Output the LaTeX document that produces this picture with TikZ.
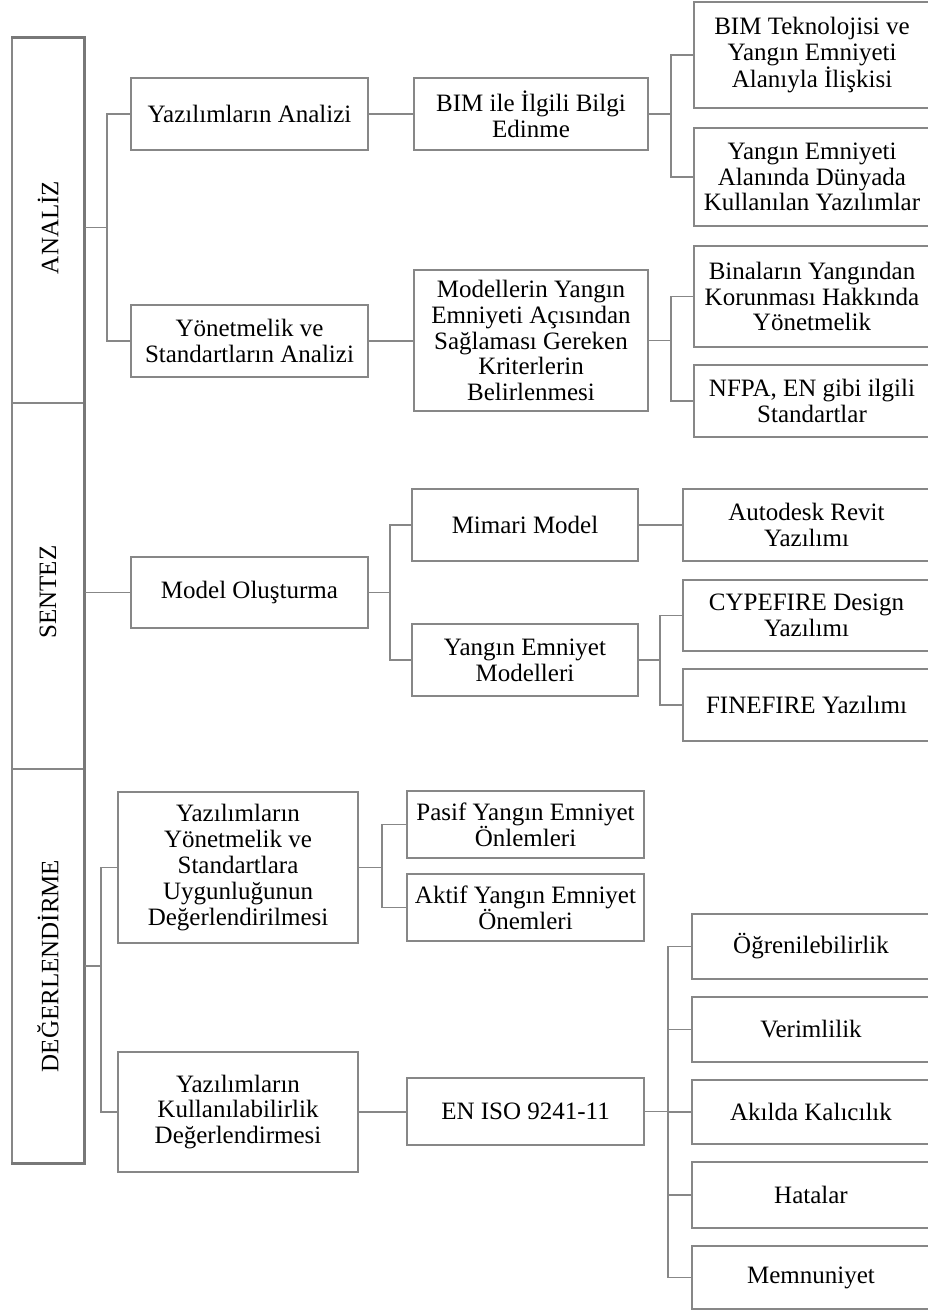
\documentclass[tikz,border=0pt]{standalone}
\usepackage{fontspec}
\setmainfont{Liberation Serif}
\usetikzlibrary{calc}
\definecolor{lgray}{RGB}{135,135,135}
\definecolor{sgray}{RGB}{120,120,120}
\tikzset{
  bx/.style={draw=lgray, line width=1.6pt, fill=white, align=center, inner sep=0pt,
    text=black, font=\fontsize{25}{25.8}\selectfont},
  colbox/.style={bx, minimum width=72pt},
  ln/.style={draw=lgray, line width=1.8pt},
}
\begin{document}
\begin{tikzpicture}[x=1pt,y=-1pt]
\useasboundingbox (0,0) rectangle (928,1310);
\fill[white] (0,0) rectangle (928,1310);
\clip (0,0) rectangle (928,1310);

% left column
\node[colbox, minimum height=365pt] (analiz) at (48,220.5) {\rotatebox{90}{ANALİZ\hspace*{14pt}}};
\node[colbox, minimum height=366pt] (sentez) at (48,586) {\rotatebox{90}{SENTEZ\hspace*{12pt}}};
\node[colbox, minimum height=394pt] (deg) at (48,966) {\rotatebox{90}{DEĞERLENDİRME}};
\draw[sgray, line width=3pt] (analiz.north west) -- (analiz.north east) -- (deg.south east) -- (deg.south west);

% level 2
\node[bx, minimum width=237pt, minimum height=72pt] (yazan) at (249.5,114) {Yazılımların Analizi};
\node[bx, minimum width=237pt, minimum height=72pt] (yonan) at (249.5,341) {Yönetmelik ve\\Standartların Analizi};
\node[bx, minimum width=237pt, minimum height=71pt] (model) at (249.5,592.5) {Model Oluşturma};
\node[bx, minimum width=240pt, minimum height=151pt] (yazyon) at (238,867.5) {Yazılımların\\Yönetmelik ve\\Standartlara\\Uygunluğunun\\Değerlendirilmesi};
\node[bx, minimum width=240pt, minimum height=120pt] (yazkul) at (238,1112) {Yazılımların\\Kullanılabilirlik\\Değerlendirmesi};

% level 3
\node[bx, minimum width=234pt, minimum height=72pt] (bim) at (531,114) {BIM ile İlgili Bilgi\\Edinme};
\node[bx, minimum width=234pt, minimum height=141pt] (modkrit) at (531,340.5) {Modellerin Yangın\\Emniyeti Açısından\\Sağlaması Gereken\\Kriterlerin\\Belirlenmesi};
\node[bx, minimum width=226pt, minimum height=72pt] (mimari) at (525,525) {Mimari Model};
\node[bx, minimum width=226pt, minimum height=72pt] (yem) at (525,660) {Yangın Emniyet\\Modelleri};
\node[bx, minimum width=237pt, minimum height=67pt] (pasif) at (525.5,824.5) {Pasif Yangın Emniyet\\Önlemleri};
\node[bx, minimum width=237pt, minimum height=67pt] (aktif) at (525.5,907.5) {Aktif Yangın Emniyet\\Önemleri};
\node[bx, minimum width=237pt, minimum height=67pt] (eniso) at (525.5,1111.5) {EN ISO 9241-11};

% level 4
\node[bx, minimum width=236pt, minimum height=106pt] (bimtek) at (812,55) {BIM Teknolojisi ve\\Yangın Emniyeti\\Alanıyla İlişkisi};
\node[bx, minimum width=236pt, minimum height=98pt] (yedun) at (812,177) {Yangın Emniyeti\\Alanında Dünyada\\Kullanılan Yazılımlar};
\node[bx, minimum width=236pt, minimum height=101pt] (binalar) at (812,296.5) {Binaların Yangından\\Korunması Hakkında\\Yönetmelik};
\node[bx, minimum width=236pt, minimum height=72pt] (nfpa) at (812,401) {NFPA, EN gibi ilgili\\Standartlar};
\node[bx, minimum width=247pt, minimum height=72pt] (autodesk) at (806.5,525) {Autodesk Revit\\Yazılımı};
\node[bx, minimum width=247pt, minimum height=71pt] (cype) at (806.5,615.5) {CYPEFIRE Design\\Yazılımı};
\node[bx, minimum width=247pt, minimum height=72pt] (fine) at (806.5,705) {FINEFIRE Yazılımı};
\node[bx, minimum width=238pt, minimum height=65pt] (ogr) at (811,946.5) {Öğrenilebilirlik};
\node[bx, minimum width=238pt, minimum height=65pt] (verim) at (811,1029.5) {Verimlilik};
\node[bx, minimum width=238pt, minimum height=64pt] (akil) at (811,1112) {Akılda Kalıcılık};
\node[bx, minimum width=238pt, minimum height=66pt] (hata) at (811,1195) {Hatalar};
\node[bx, minimum width=238pt, minimum height=63pt] (memn) at (811,1277.5) {Memnuniyet};

% bus coordinates
\coordinate (b1) at (107,0);
\coordinate (b2) at (671,0);
\coordinate (b3) at (390,0);
\coordinate (b4) at (660,0);
\coordinate (b5) at (101,0);
\coordinate (b6) at (382,0);
\coordinate (b7) at (668,0);
\coordinate (am) at ($(yazan.west)!0.5!(yonan.west)$);

% connectors
\draw[ln] (analiz.east |- am) -- (am -| b1) |- (yazan.west);
\draw[ln] (am -| b1) |- (yonan.west);
\draw[ln] (yazan.east) -- (yazan.east -| bim.west);
\draw[ln] (yonan.east) -- (yonan.east -| modkrit.west);
\draw[ln] (bim.east) -- (bim.east -| b2) |- (bimtek.west);
\draw[ln] (bim.east -| b2) |- (yedun.west);
\draw[ln] (modkrit.east) -- (modkrit.east -| b2) |- (binalar.west);
\draw[ln] (modkrit.east -| b2) |- (nfpa.west);

\draw[ln] (sentez.east |- model.west) -- (model.west);
\draw[ln] (model.east) -- (model.east -| b3) |- (mimari.west);
\draw[ln] (model.east -| b3) |- (yem.west);
\draw[ln] (mimari.east) -- (mimari.east -| autodesk.west);
\draw[ln] (yem.east) -- (yem.east -| b4) |- (cype.west);
\draw[ln] (yem.east -| b4) |- (fine.west);

\draw[ln] (deg.east) -- (deg.east -| b5) |- (yazyon.west);
\draw[ln] (deg.east -| b5) |- (yazkul.west);
\draw[ln] (yazyon.east) -- (yazyon.east -| b6) |- (pasif.west);
\draw[ln] (yazyon.east -| b6) |- (aktif.west);
\draw[ln] (yazkul.east) -- (yazkul.east -| eniso.west);
\draw[ln] (eniso.east) -- (eniso.east -| b7) |- (ogr.west);
\draw[ln] (eniso.east -| b7) |- (verim.west);
\draw[ln] (eniso.east -| b7) |- (akil.west);
\draw[ln] (eniso.east -| b7) |- (hata.west);
\draw[ln] (eniso.east -| b7) |- (memn.west);
\end{tikzpicture}
\end{document}
